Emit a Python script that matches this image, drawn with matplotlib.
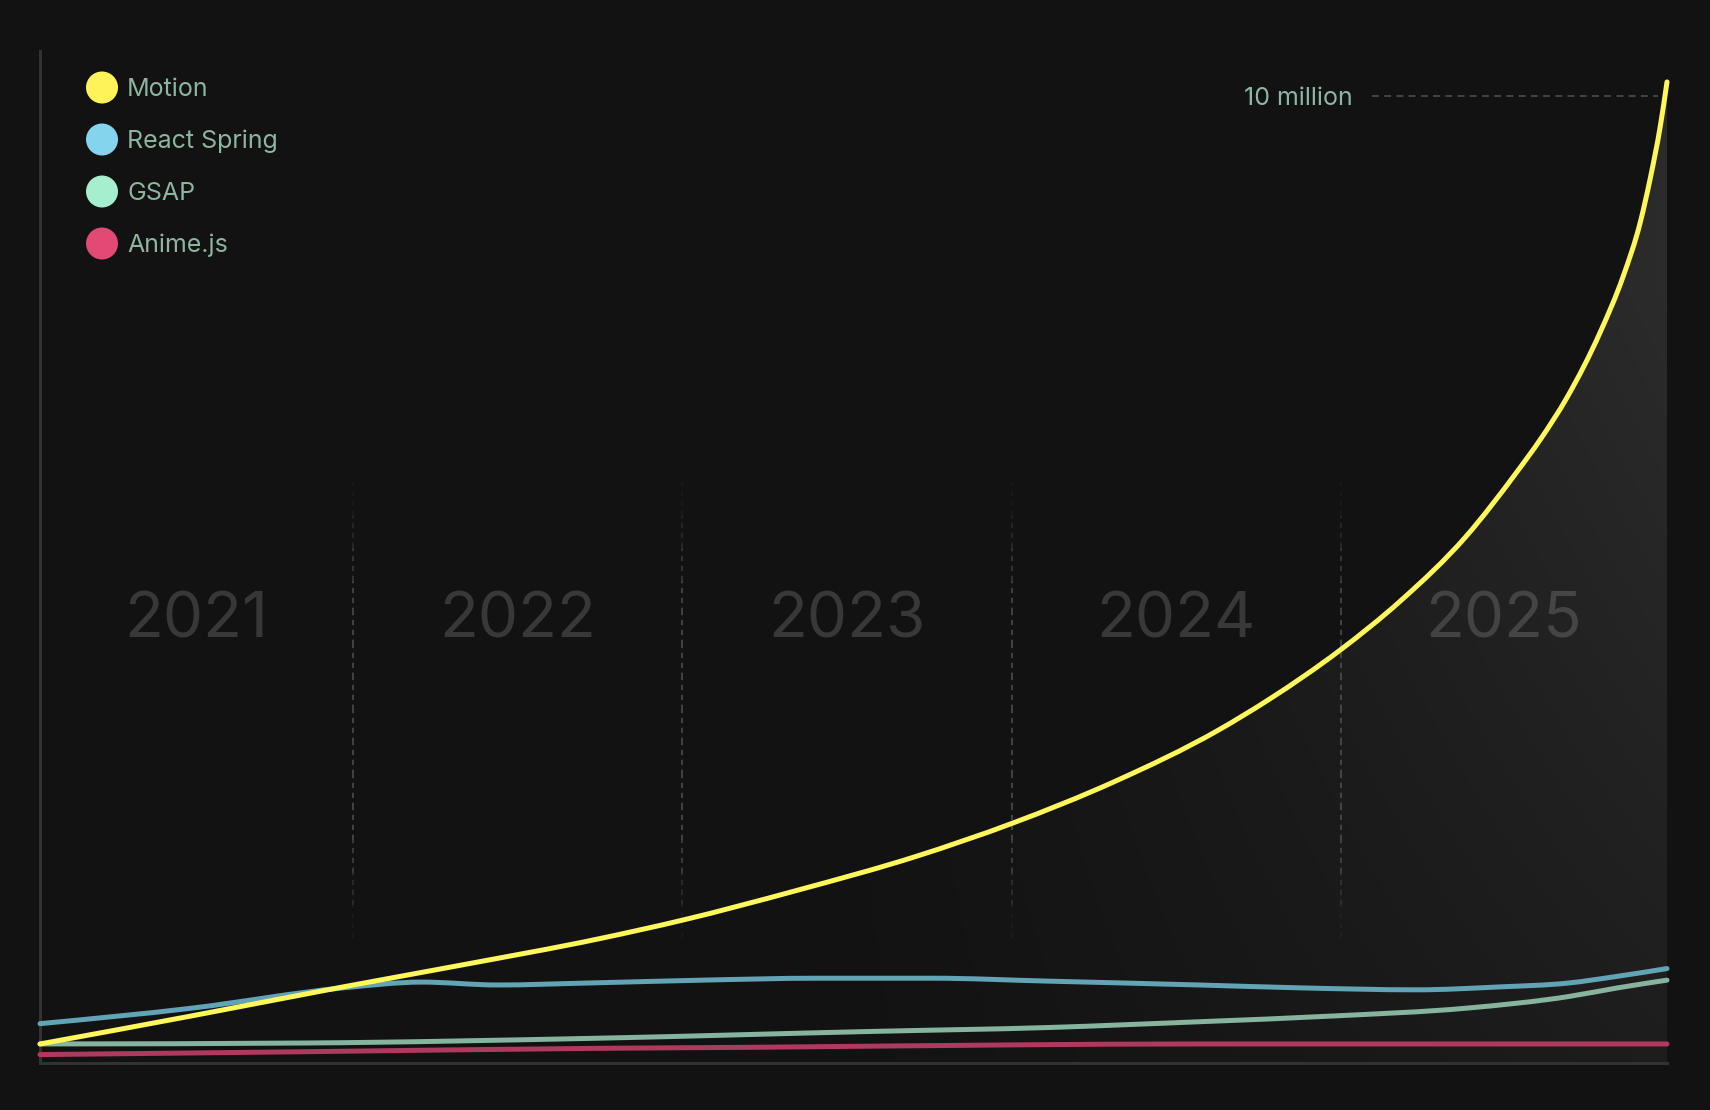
import numpy as np
import matplotlib
matplotlib.use("Agg")
import matplotlib.pyplot as plt
from matplotlib.patches import Circle, PathPatch
from matplotlib.path import Path
import matplotlib.transforms as mtransforms

plt.rcParams['font.family'] = ['Inter', 'DejaVu Sans']

# ---------------- data (downloads, millions) ----------------
series_names = ["Motion", "React Spring", "GSAP", "Anime.js"]
legend_colors = ["#FFF35A", "#85D4EE", "#A5EECE", "#E34A73"]
line_colors = ["#FFF75B", "#62A3B5", "#86B49C", "#AE3A5E"]

motion_x = [2021.05, 2021.51, 2021.97, 2022.32, 2022.75, 2023.00, 2023.35, 2023.71,
            2024.00, 2024.31, 2024.63, 2024.78, 2025.00, 2025.18, 2025.38, 2025.535,
            2025.605, 2025.687, 2025.787, 2025.857, 2025.909, 2025.939, 2025.970, 2025.99]
motion_y = [0.20, 0.49, 0.79, 1.01, 1.29, 1.48, 1.79, 2.14,
            2.48, 2.91, 3.45, 3.76, 4.28, 4.78, 5.45, 6.12,
            6.45, 6.89, 7.56, 8.14, 8.70, 9.15, 9.70, 10.15]

spring_x = [2021.05, 2021.51, 2021.97, 2022.21, 2022.44, 2022.71, 2023.06, 2023.41,
            2023.76, 2024.11, 2024.57, 2024.88, 2025.23, 2025.48, 2025.69, 2025.84, 2025.99]
spring_y = [0.41, 0.57, 0.78, 0.84, 0.81, 0.83, 0.86, 0.88,
            0.88, 0.85, 0.81, 0.78, 0.76, 0.79, 0.83, 0.90, 0.98]

gsap_x = [2021.05, 2021.86, 2022.75, 2023.58, 2024.11, 2024.57, 2024.98, 2025.38,
          2025.69, 2025.84, 2025.99]
gsap_y = [0.20, 0.21, 0.26, 0.33, 0.37, 0.43, 0.49, 0.57, 0.69, 0.78, 0.86]

anime_x = [2021.05, 2021.86, 2022.75, 2023.23, 2023.99, 2024.57, 2025.99]
anime_y = [0.09, 0.12, 0.155, 0.166, 0.19, 0.20, 0.20]

years = [2021, 2022, 2023, 2024, 2025]
x_start, x_end = 2021.05, 2025.99
y_top = 10.47
milestone_value = 10
milestone_label = "10 million"


# ---------------- helpers ----------------
def monotone_path(xs, ys):
    """Smooth monotone-cubic (d3 curveMonotoneX style) Bezier path through the points."""
    x = np.asarray(xs, float)
    y = np.asarray(ys, float)
    n = len(x)
    h = np.diff(x)
    d = np.diff(y) / h
    m = np.zeros(n)
    for i in range(1, n - 1):
        if d[i - 1] * d[i] <= 0:
            m[i] = 0.0
        else:
            p = (d[i - 1] * h[i] + d[i] * h[i - 1]) / (h[i - 1] + h[i])
            m[i] = (np.sign(d[i - 1]) + np.sign(d[i])) * min(abs(d[i - 1]), abs(d[i]), 0.5 * abs(p))
    m[0] = (3 * d[0] - m[1]) / 2 if n > 2 else d[0]
    m[-1] = (3 * d[-1] - m[-2]) / 2 if n > 2 else d[-1]
    verts = [(x[0], y[0])]
    codes = [Path.MOVETO]
    for i in range(n - 1):
        dx = h[i] / 3
        verts += [(x[i] + dx, y[i] + m[i] * dx), (x[i + 1] - dx, y[i + 1] - m[i + 1] * dx),
                  (x[i + 1], y[i + 1])]
        codes += [Path.CURVE4] * 3
    return verts, codes


# ---------------- figure ----------------
W, H = 1710, 1110
BG = "#121212"
TEXT = "#8DB5A0"
fig = plt.figure(figsize=(W / 100, H / 100), dpi=100, facecolor=BG)

left_px, right_px, top_px, bottom_px = 40, 1667, 51, 1063.3
ax = fig.add_axes([left_px / W, (H - bottom_px) / H, (right_px - left_px) / W,
                   (bottom_px - top_px) / H])
ax.set_facecolor(BG)
ax.set_xlim(x_start, x_end)
ax.set_ylim(0, y_top)
ax.set_xticks([])
ax.set_yticks([])
for s in ["top", "right"]:
    ax.spines[s].set_visible(False)
for s in ["left", "bottom"]:
    ax.spines[s].set_color("#323232")
    ax.spines[s].set_linewidth(2.2)
    ax.spines[s].set_zorder(1)

# gradient fill under Motion
mv, mc = monotone_path(motion_x, motion_y)
fill_path = Path(mv + [(motion_x[-1], 0), (motion_x[0], 0), (motion_x[0], motion_y[0])],
                 mc + [Path.LINETO, Path.LINETO, Path.CLOSEPOLY])
clip_patch = PathPatch(fill_path, facecolor="none", edgecolor="none", transform=ax.transData)
ax.add_patch(clip_patch)
nx, ny = 400, 300
gx = np.linspace(x_start, x_end, nx)
gy = np.linspace(0, y_top, ny)
GX, GY = np.meshgrid(gx, gy)
a_x = np.clip((GX - 2023.2) / (x_end - 2023.2), 0, 1) ** 1.3
a_y = 0.45 + 0.55 * (GY / 8.0).clip(0, 1)
alpha = 0.85 * a_x * a_y
img = np.zeros((ny, nx, 4))
img[..., 0] = img[..., 1] = img[..., 2] = 0.19
img[..., 3] = alpha
im = ax.imshow(img, extent=[x_start, x_end, 0, y_top], origin="lower",
               aspect="auto", zorder=1, interpolation="bilinear")
im.set_clip_path(clip_patch)

# year dividers (dashed, fading at ends)
seg_edges = np.linspace(1.3, 6.0, 15)
for yr in years[1:]:
    for i in range(len(seg_edges) - 1):
        mid = 0.5 * (seg_edges[i] + seg_edges[i + 1])
        fade = np.clip(min((mid - 1.3) / 1.0, (6.0 - mid) / 1.2), 0, 1)
        ax.plot([yr, yr], [seg_edges[i], seg_edges[i + 1]], color="#5A5A5A",
                lw=1.1, ls=(0, (3.5, 3)), alpha=0.85 * fade, zorder=2,
                solid_capstyle="butt")

# year labels
for yr in years:
    lo = max(yr, x_start)
    hi = min(yr + 1, x_end)
    ax.text((lo + hi) / 2, 4.57, str(yr), ha="center", va="center",
            fontsize=46, color=(1, 1, 1, 0.16), zorder=3)

# lines
all_x = [motion_x, spring_x, gsap_x, anime_x]
all_y = [motion_y, spring_y, gsap_y, anime_y]
for i in [3, 2, 1, 0]:
    v, c = monotone_path(all_x[i], all_y[i])
    ax.add_patch(PathPatch(Path(v, c), facecolor="none", edgecolor=line_colors[i],
                           lw=3.6, capstyle="round", joinstyle="round",
                           zorder=5 + (3 - i), clip_on=False, transform=ax.transData))

# milestone
ax.plot([2025.094, 2025.963], [milestone_value, milestone_value], color="#4E5450",
        lw=1.1, ls=(0, (4.5, 3.5)), zorder=4)
txt_tr = mtransforms.offset_copy(ax.transData, fig=fig, x=0, y=-1.5, units="points")
ax.text(2025.034, milestone_value, milestone_label, ha="right", va="center",
        fontsize=18, color=TEXT, zorder=6, transform=txt_tr)

# legend overlay (pixel coordinates)
ov = fig.add_axes([0, 0, 1, 1], facecolor="none")
ov.set_xlim(0, W)
ov.set_ylim(H, 0)
ov.axis("off")
for k, (name, col) in enumerate(zip(series_names, legend_colors)):
    cy = 87.5 + k * 52
    ov.add_patch(Circle((102, cy), 16, facecolor=col, edgecolor="none"))
    ov.text(127, cy + 1.5, name, ha="left", va="center", fontsize=18, color=TEXT)

fig.savefig("out.png", dpi=100, facecolor=BG)
